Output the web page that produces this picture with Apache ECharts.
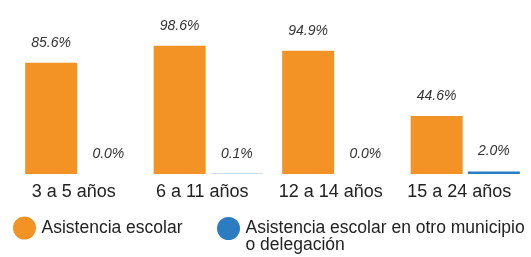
<!DOCTYPE html>
<html>
<head>
<meta charset="utf-8">
<script src="https://cdn.jsdelivr.net/npm/echarts@6/dist/echarts.min.js"></script>
<style>
  html, body { margin: 0; padding: 0; background: #fff; }
  #chart { width: 531px; height: 257px; }
</style>
</head>
<body>
<div id="chart"></div>
<script>
var categories = ['3 a 5 años', '6 a 11 años', '12 a 14 años', '15 a 24 años'];
var asistencia = [85.6, 98.6, 94.9, 44.6];
var otroMunicipio = [0.0, 0.1, 0.0, 2.0];
var seriesNames = ['Asistencia escolar', 'Asistencia escolar en otro municipio\no delegación'];

var narrow = '"Liberation Sans Narrow", "Liberation Sans", Arial, sans-serif';

var mainChart = echarts.init(document.getElementById('chart'));

var valueLabel = {
    show: true,
    position: 'top',
    distance: 13,
    fontFamily: 'Liberation Sans, Arial, sans-serif',
    fontStyle: 'italic',
    fontSize: 14,
    color: '#333',
    formatter: function (p) { return p.value.toFixed(1) + '%'; }
};

var option = {
    animation: false,
    grid: { left: 15.5, right: 1.5, top: 44, bottom: 83 },
    legend: [
        {
            data: [seriesNames[0]],
            left: 8, top: 211.5,
            icon: 'circle', itemWidth: 24, itemHeight: 23, itemGap: 4,
            textStyle: { fontFamily: narrow, fontSize: 17.5, color: '#222' }
        },
        {
            data: [seriesNames[1]],
            left: 212, top: 197.5,
            icon: 'circle', itemWidth: 24, itemHeight: 23,
            // blank first line so the icon sits beside the first text line
            formatter: function (name) { return ' \n' + name; },
            textStyle: { fontFamily: narrow, fontSize: 17.5, color: '#222', lineHeight: 17 }
        }
    ],
    xAxis: {
        type: 'category',
        data: categories,
        axisLine: { show: false },
        axisTick: { show: false },
        axisLabel: { interval: 0, fontFamily: narrow, fontSize: 18, color: '#222', margin: 9, padding: [0, 12, 0, 0] }
    },
    yAxis: {
        type: 'value', min: 0, max: 100, show: false,
        splitLine: { show: false }
    },
    series: [
        {
            name: seriesNames[0], type: 'bar', data: asistencia,
            barWidth: 52, barGap: '10%',
            itemStyle: { color: '#f39325' },
            label: valueLabel
        },
        {
            name: seriesNames[1], type: 'bar', data: otroMunicipio,
            barWidth: 52,
            itemStyle: { color: '#2b7cc0' },
            label: valueLabel
        }
    ]
};

mainChart.setOption(option);
</script>
</body>
</html>
